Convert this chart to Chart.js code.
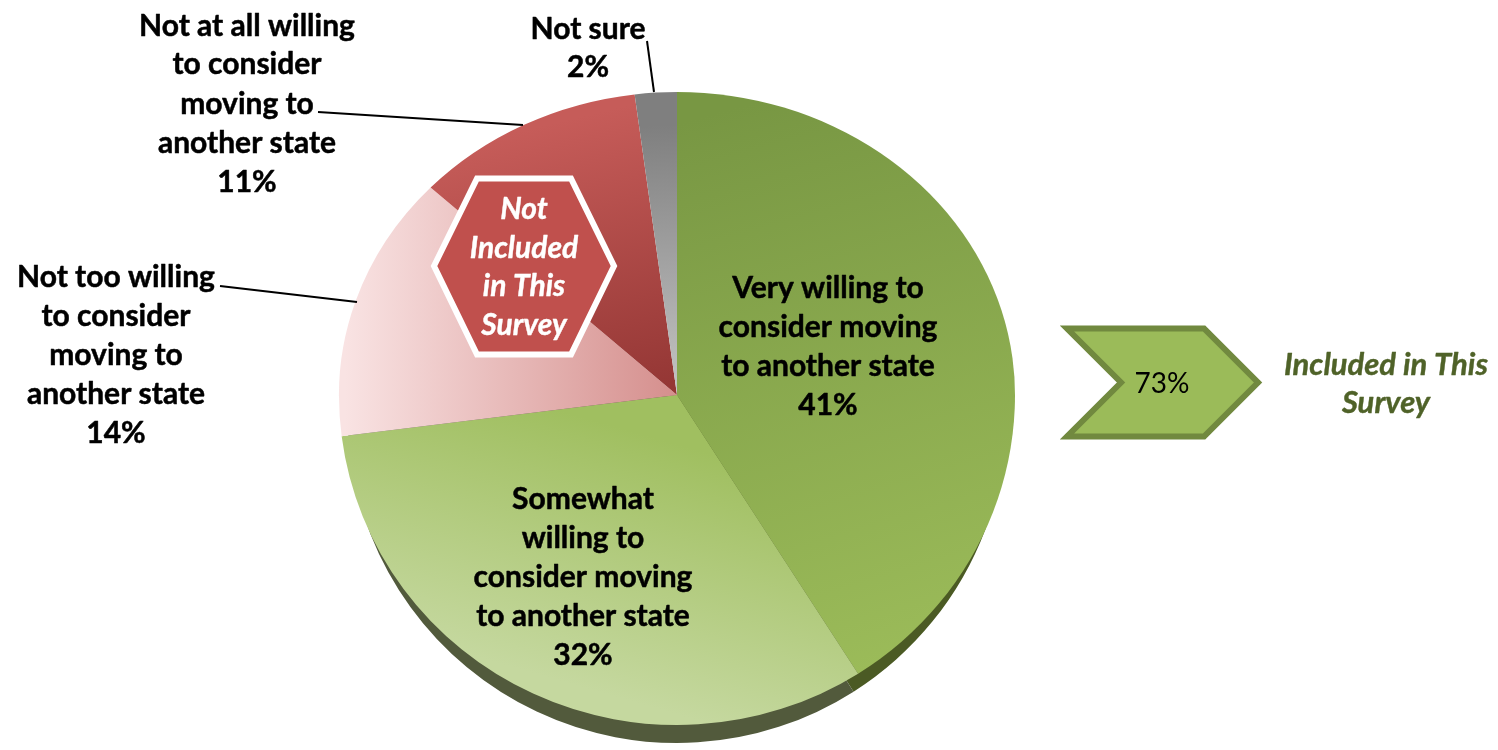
<!DOCTYPE html>
<html><head><meta charset="utf-8">
<style>html,body{margin:0;padding:0;background:#fff}canvas{display:block}</style>
<script src="https://cdn.jsdelivr.net/npm/chart.js@4"></script>
</head><body><canvas id="c" width="1498" height="750"></canvas>
<script>
const categories = ["Very willing to consider moving to another state","Somewhat willing to consider moving to another state","Not too willing to consider moving to another state","Not at all willing to consider moving to another state","Not sure"];
const values = [41,32,14,11,2];
const rimColors = ['#4b5a24','#525a3c','#525a3c','#525a3c','#525a3c'];
const gradientStops = [
  ['#789743','#9bbb59'],['#a0bf60','#c5d89f'],['#f9e3e3','#d58f8d'],['#c65c59','#953735'],['#7f7f7f','#c4c4c4']
];
const gradientLines = [[677,92,860,680],[625,430,550,685],[345,0,677,0],[560,90,640,390],[650,95,665,395]];
const FONT = 'Lato, "Open Sans", sans-serif';
const labelBlocks = [
 {x:247,ys:[26,64,104,143,182],lines:["Not at all willing","to consider","moving to","another state","11%"]},
 {x:588,ys:[29,67],lines:["Not sure","2%"]},
 {x:116,ys:[277,316,355,394,433],lines:["Not too willing","to consider","moving to","another state","14%"]},
 {x:828,ys:[288,327,366,405],lines:["Very willing to","consider moving","to another state","41%"]},
 {x:583,ys:[499,538,577,616,655],lines:["Somewhat","willing to","consider moving","to another state","32%"]}
];
const leaders = [[318,112,523,125],[647,41,654,92],[220,286,357,302]];
const TOP_SCALE = 303/338, BOTTOM_SCALE = 330/338, DEPTH = 18, RIM_X_SCALE = 0.975;

function poly(ctx, pts){ctx.beginPath();pts.forEach((p,i)=>i?ctx.lineTo(p[0],p[1]):ctx.moveTo(p[0],p[1]));ctx.closePath();}
function ghost(arc,color){const g=Object.create(arc);g.options=Object.assign({},arc.options,{backgroundColor:color,borderWidth:0});return g;}
function heavyText(ctx,t,x,y,w){ctx.lineWidth=w;ctx.lineJoin='round';ctx.strokeStyle=ctx.fillStyle;ctx.strokeText(t,x,y);ctx.fillText(t,x,y);}

const perspective = {
  id:'perspective',
  beforeDatasetsDraw(chart){
    const ctx=chart.ctx, arcs=chart.getDatasetMeta(0).data, cx=arcs[0].x, cy=arcs[0].y, W=chart.width, H=chart.height;
    // side wall: a narrower copy of the lower half, shifted down, so it tapers out toward the sides
    ctx.save();
    ctx.beginPath();ctx.rect(0,cy,W,H-cy);ctx.clip();
    ctx.translate(cx,cy+DEPTH);ctx.scale(RIM_X_SCALE,BOTTOM_SCALE);ctx.translate(-cx,-cy);
    arcs.forEach((a,i)=>ghost(a,rimColors[i]).draw(ctx));
    ctx.restore();
    // upper half
    ctx.save();
    ctx.beginPath();ctx.rect(0,0,W,cy+0.5);ctx.clip();
    ctx.translate(0,cy);ctx.scale(1,TOP_SCALE);ctx.translate(0,-cy);
    arcs.forEach(a=>a.draw(ctx));
    ctx.restore();
    // lower half
    ctx.save();
    ctx.beginPath();ctx.rect(0,cy,W,H-cy);ctx.clip();
    ctx.translate(0,cy);ctx.scale(1,BOTTOM_SCALE);ctx.translate(0,-cy);
    arcs.forEach(a=>a.draw(ctx));
    ctx.restore();
    return false;
  },
  afterDraw(chart){
    const ctx=chart.ctx;
    ctx.save();
    ctx.strokeStyle='#000';ctx.lineWidth=2;
    leaders.forEach(l=>{ctx.beginPath();ctx.moveTo(l[0],l[1]);ctx.lineTo(l[2],l[3]);ctx.stroke();});
    ctx.fillStyle='#000';ctx.textAlign='center';ctx.textBaseline='middle';
    ctx.font='bold 30px '+FONT;
    labelBlocks.forEach(b=>b.lines.forEach((t,i)=>heavyText(ctx,t,b.x,b.ys[i],0.5)));
    // hexagon
    poly(ctx,[[434,266],[477,178.5],[571,178.5],[614,266],[571,354.5],[477,354.5]]);
    ctx.fillStyle='#c0504d';ctx.fill();ctx.strokeStyle='#fff';ctx.lineWidth=6;ctx.lineJoin='miter';ctx.stroke();
    ctx.fillStyle='#fff';ctx.font='italic bold 30px '+FONT;
    [["Not",209],["Included",248],["in This",286],["Survey",325]].forEach(r=>heavyText(ctx,r[0],524,r[1],0.4));
    // chevron
    poly(ctx,[[1067,328.5],[1204,328.5],[1258,382.5],[1204,436.5],[1067,436.5],[1121,382.5]]);
    ctx.fillStyle='#9bbb59';ctx.fill();ctx.strokeStyle='#71893f';ctx.lineWidth=6;ctx.lineJoin='miter';ctx.stroke();
    ctx.fillStyle='#000';ctx.font='28px '+FONT;ctx.fillText("73%",1162,384);
    ctx.fillStyle='#4f6228';ctx.font='italic bold 31px '+FONT;
    heavyText(ctx,"Included in This",1386,365,0.4);heavyText(ctx,"Survey",1386,403,0.4);
    ctx.restore();
  }
};

const cctx=document.getElementById('c').getContext('2d');
const fills=gradientLines.map((g,i)=>{const lg=cctx.createLinearGradient(g[0],g[1],g[2],g[3]);lg.addColorStop(0,gradientStops[i][0]);lg.addColorStop(1,gradientStops[i][1]);return lg;});

new Chart(cctx,{
  type:'pie',
  data:{labels:categories,datasets:[{data:values,backgroundColor:fills,borderWidth:0}]},
  options:{
    responsive:false,animation:false,
    layout:{padding:{left:339,right:483,top:57,bottom:17}},
    plugins:{legend:{display:false},tooltip:{enabled:false}},
    events:[]
  },
  plugins:[perspective]
});
</script></body></html>
